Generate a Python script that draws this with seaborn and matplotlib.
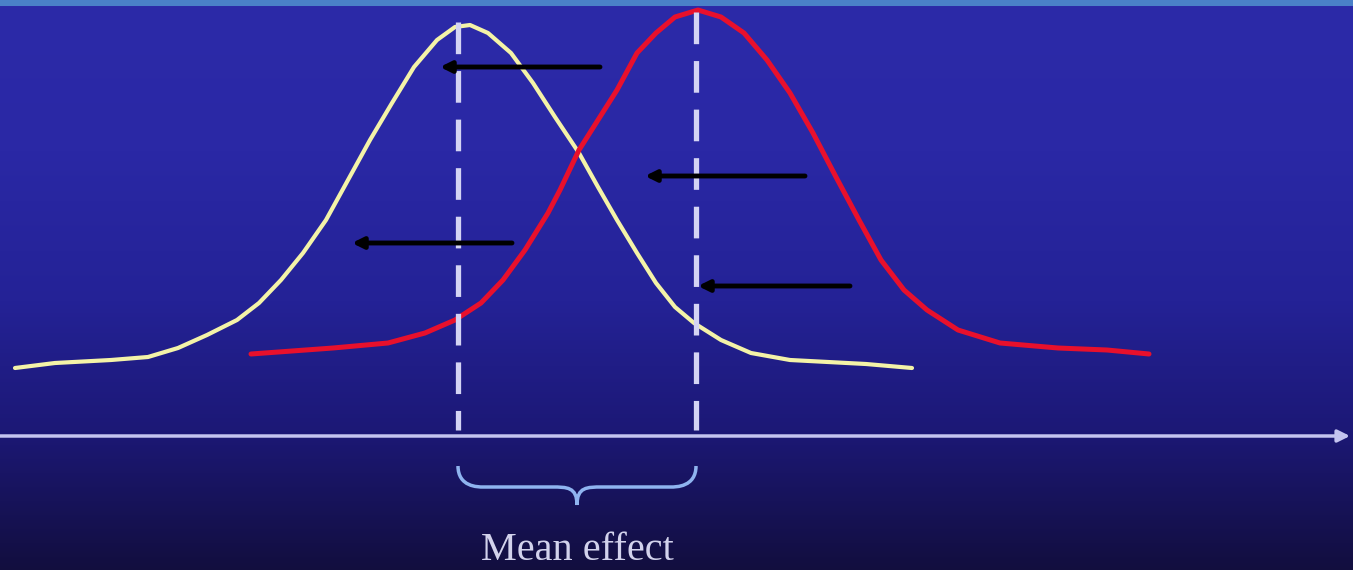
import numpy as np
import pandas as pd
import seaborn as sns
import matplotlib.pyplot as plt
from matplotlib.path import Path
from matplotlib.patches import PathPatch

# curves (pixel coords, y grows downward)
yellow_x = [15, 55, 111, 148, 178, 207, 237, 259, 281, 303, 326, 348, 370, 392,
            414, 437, 455, 470, 488, 511, 533, 555, 579, 598, 617, 637, 656, 675,
            694, 721, 751, 790, 828, 866, 912]
yellow_y = [368, 363, 360, 357, 348, 335, 320, 303, 280, 253, 220, 180, 140, 103,
            67, 40, 27, 25, 33, 53, 83, 117, 153, 187, 220, 253, 283, 307,
            323, 340, 353, 360, 362, 364, 368]

red_x = [251, 333, 388, 425, 455, 481, 503, 525, 548, 560, 579, 598, 617, 637,
         656, 675, 698, 721, 744, 767, 790, 813, 836, 859, 881, 904, 927, 958,
         1000, 1058, 1107, 1149]
red_y = [354, 348, 343, 333, 320, 303, 280, 250, 213, 190, 150, 120, 90, 53,
         33, 17, 10, 17, 33, 60, 93, 133, 177, 220, 260, 290, 310, 330,
         343, 348, 350, 354]

means = [458, 696]
mean_tops = [22, 12]
axis_y = 436

# arrows: start x, end x, y
arrow_start = [600, 805, 512, 850]
arrow_end = [440, 645, 352, 698]
arrow_y = [67, 176, 243, 286]

label = "Mean effect"

W, H = 1353, 570
sns.set_style("white")
fig = plt.figure(figsize=(W / 100, H / 100), dpi=100)
ax = fig.add_axes([0, 0, 1, 1])

# background gradient
stops_y = np.array([0, 5, 6, 150, 300, 430, 570])
stops_c = np.array([[74, 128, 200], [74, 128, 200], [44, 42, 168], [42, 40, 165],
                    [36, 34, 150], [28, 24, 118], [18, 14, 62]]) / 255
yy = np.arange(H)
grad = np.stack([np.interp(yy, stops_y, stops_c[:, i]) for i in range(3)], axis=1)
ax.imshow(grad[:, None, :], extent=[0, W, H, 0], aspect="auto", zorder=0)

df_y = pd.DataFrame({"x": yellow_x, "y": yellow_y})
df_r = pd.DataFrame({"x": red_x, "y": red_y})
sns.lineplot(data=df_y, x="x", y="y", sort=False, color="#f4f3a8", lw=3,
             ax=ax, zorder=3, solid_joinstyle="round", solid_capstyle="round")
sns.lineplot(data=df_r, x="x", y="y", sort=False, color="#e8102c", lw=3.6,
             ax=ax, zorder=3, solid_joinstyle="round", solid_capstyle="round")

# dashed mean lines
for m, t in zip(means, mean_tops):
    ax.plot([m, m], [t, axis_y - 6], color="#d4d4f4", lw=3.8,
            dashes=(6, 3.2), zorder=4)

# horizontal axis
ax.annotate("", xy=(1350, axis_y), xytext=(0, axis_y),
            arrowprops=dict(arrowstyle="-|>", lw=2.5, color="#c4c4f0",
                            mutation_scale=18, shrinkA=0, shrinkB=0), zorder=4)

# black arrows
for xs, xe, ya in zip(arrow_start, arrow_end, arrow_y):
    ax.annotate("", xy=(xe, ya), xytext=(xs, ya),
                arrowprops=dict(arrowstyle="-|>", lw=3.5, color="black",
                                mutation_scale=16, shrinkA=0, shrinkB=0), zorder=5)

# curly brace under the means
l, r = means
mid = (l + r) / 2
top, bot, tip = 466, 487, 505
verts = [(l, top), (l, bot), (l + 20, bot), (l + 25, bot),
         (mid - 25, bot), (mid - 10, bot), (mid, bot), (mid, tip),
         (mid, bot), (mid + 10, bot), (mid + 25, bot),
         (r - 25, bot), (r - 20, bot), (r, bot), (r, top)]
codes = [Path.MOVETO, Path.CURVE4, Path.CURVE4, Path.CURVE4,
         Path.LINETO, Path.CURVE4, Path.CURVE4, Path.CURVE4,
         Path.CURVE4, Path.CURVE4, Path.CURVE4,
         Path.LINETO, Path.CURVE4, Path.CURVE4, Path.CURVE4]
ax.add_patch(PathPatch(Path(verts, codes), fill=False, ec="#8fb4f0", lw=2.5, zorder=4))

ax.text(mid, 569, label, ha="center", va="bottom", fontsize=29,
        family="Liberation Serif", color="#d2d2ec", zorder=5)

ax.set_xlim(0, W)
ax.set_ylim(H, 0)
ax.set_axis_off()
fig.savefig("out.png", dpi=100)
